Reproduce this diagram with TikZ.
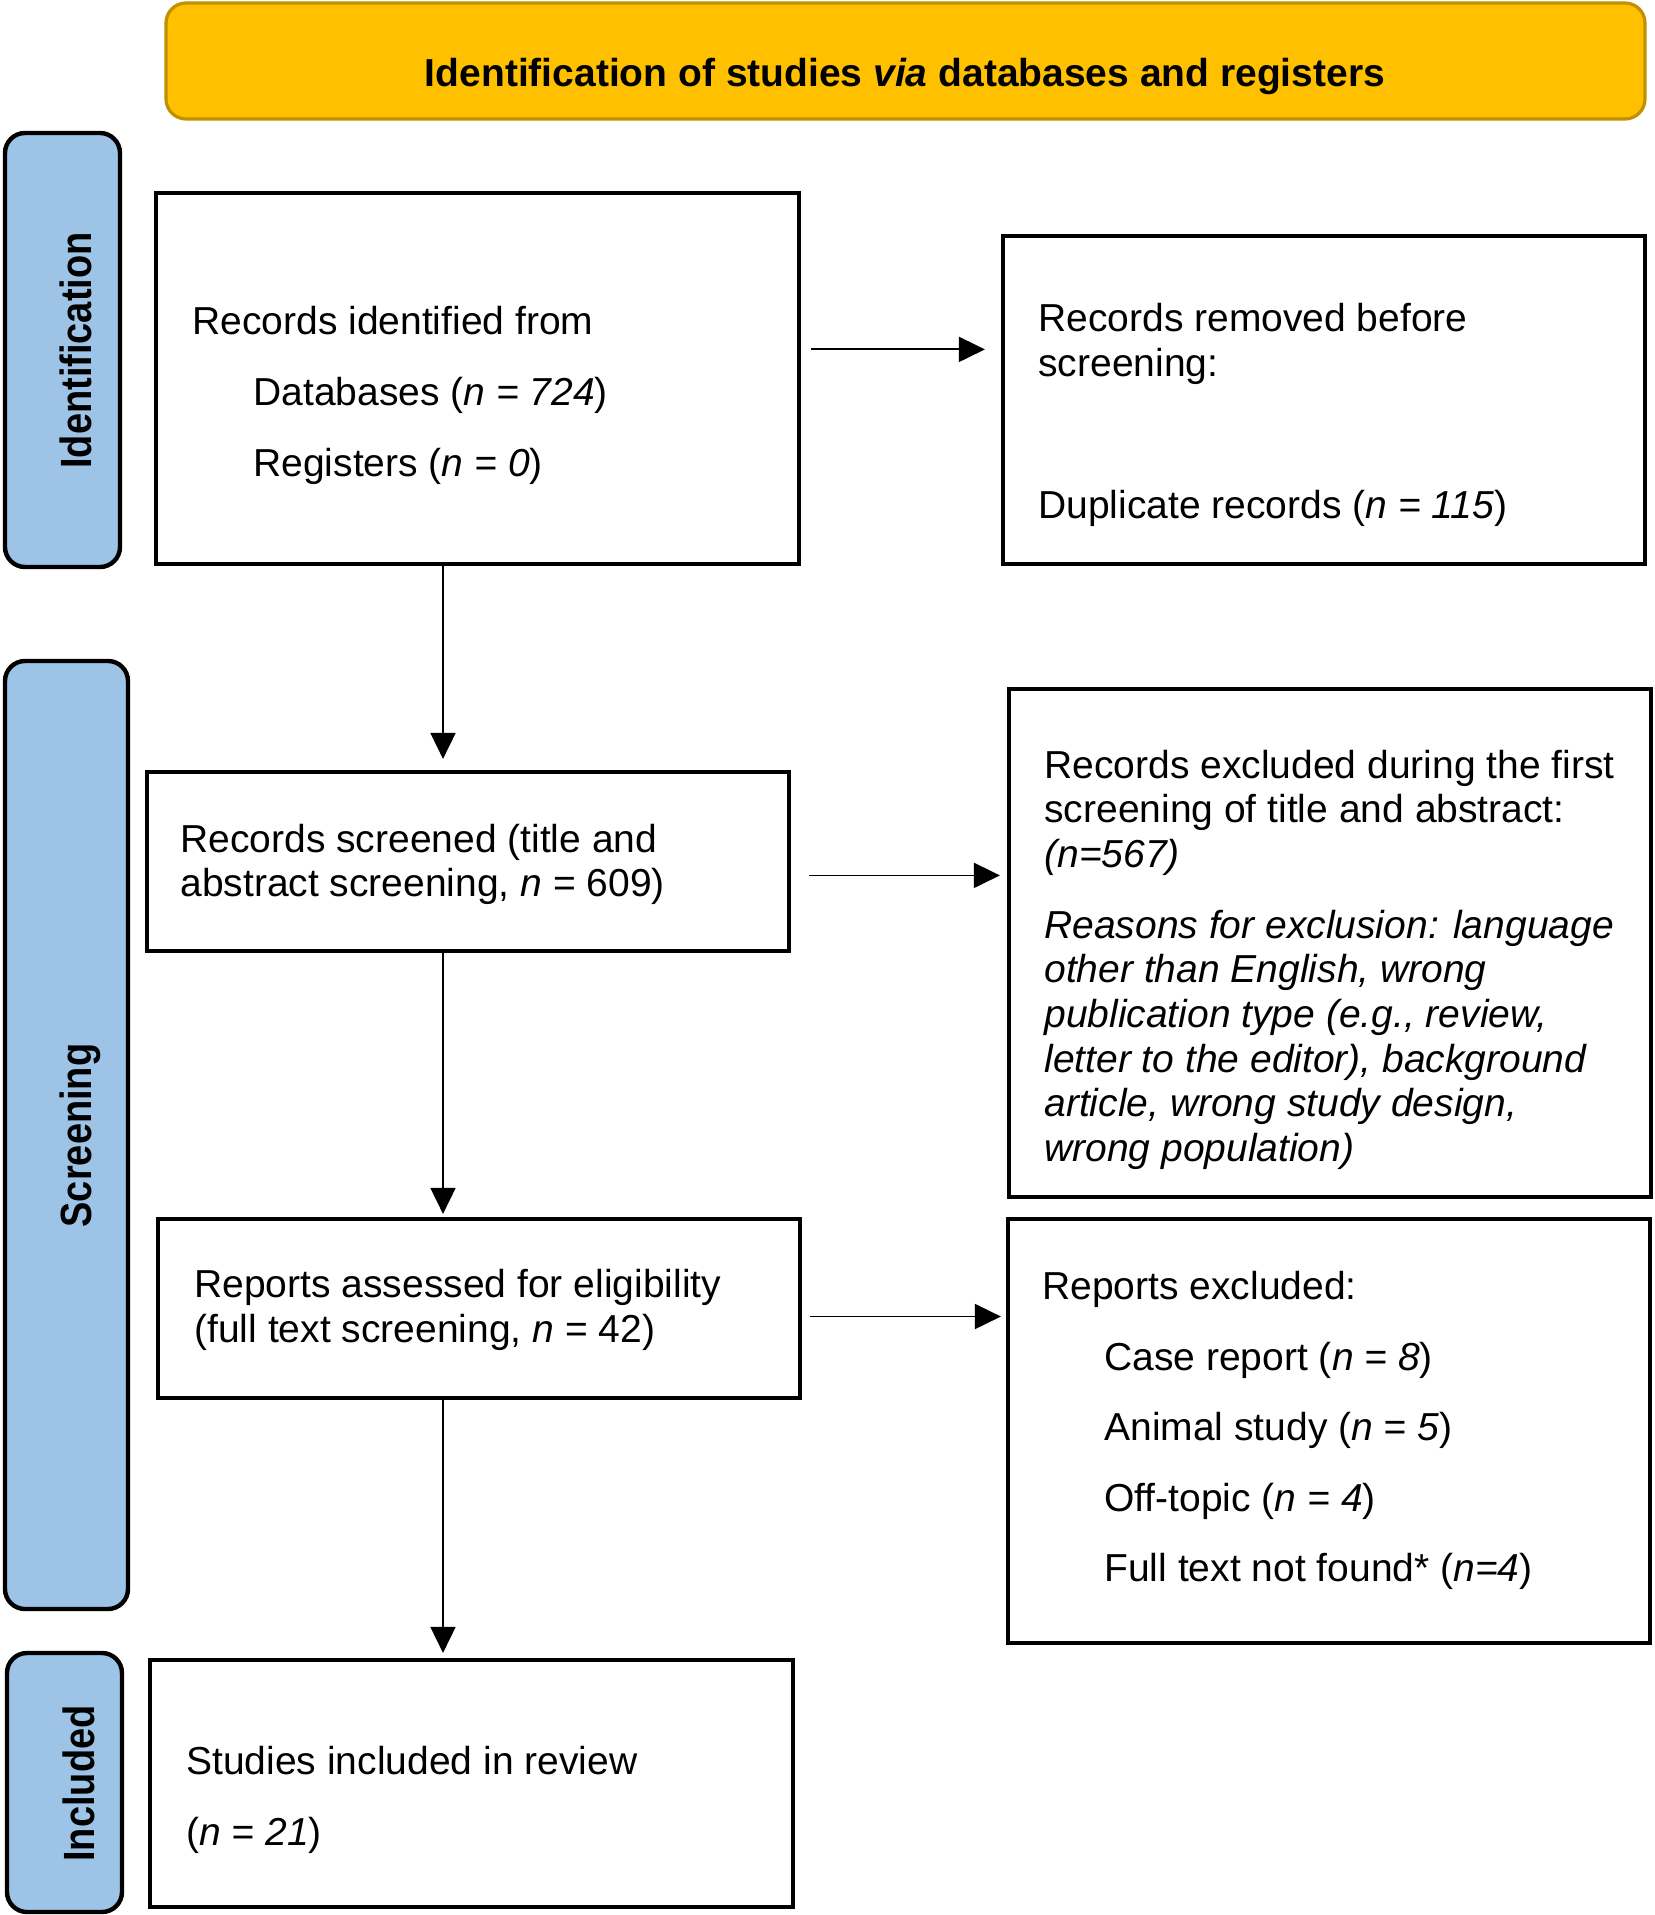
\documentclass[tikz,border=0pt]{standalone}
\usepackage{fontspec}
\setmainfont{Liberation Sans}
\usetikzlibrary{fit,arrows.meta,calc}
\definecolor{gold}{HTML}{FFC000}
\definecolor{golddark}{HTML}{BF9000}
\definecolor{phase}{HTML}{9DC3E6}
\begin{document}
\begin{tikzpicture}[x=0.5pt,y=-0.5pt,
  box/.style={draw=black, line width=2.1pt, inner sep=0pt, fill=white},
  phasebox/.style={draw=black, line width=2.2pt, fill=phase, rounded corners=10pt, inner sep=0pt},
  banner/.style={draw=golddark, line width=1.6pt, fill=gold, rounded corners=10pt, inner sep=0pt},
  txt/.style={anchor=base west, inner sep=0pt, font=\fontsize{19.5pt}{22pt}\selectfont},
  bannertxt/.style={anchor=base, inner sep=0pt, font=\fontsize{19.5pt}{22pt}\selectfont\bfseries},
  phasetxt/.style={rotate=90, anchor=base, inner sep=0pt, font=\fontsize{19pt}{22pt}\selectfont\bfseries},
  arr/.style={line width=0.9pt, -{Triangle[length=13pt,width=12.5pt]}}]
\useasboundingbox (0,0) rectangle (1654,1915);

% banner
\node[banner, fit={(166,3) (1645,119)}] (ban) {};
\node[bannertxt] (bant) at (905,87) {Identification of studies \textit{via} databases and registers};

% phase labels
\node[phasebox, fit={(5,133) (120,567)}] (ph1) {};
\node[phasebox, fit={(5,661) (128,1609)}] (ph2) {};
\node[phasebox, fit={(7,1653) (122,1912)}] (ph3) {};
\node[phasetxt] (ph1t) at (91,350.5) {\scalebox{1}[1.15]{Identification}};
\node[phasetxt] (ph2t) at (91,1135.5) {\scalebox{1}[1.15]{Screening}};
\node[phasetxt] (ph3t) at (94,1783.5) {\scalebox{1}[1.15]{Included}};

% boxes
\node[box, fit={(156,193) (799,564)}] (b1) {};
\node[box, fit={(1003,236) (1645,564)}] (b2) {};
\node[box, fit={(147,772) (789,951)}] (b3) {};
\node[box, fit={(1009,689) (1651,1197)}] (b4) {};
\node[box, fit={(158,1219) (800,1398)}] (b5) {};
\node[box, fit={(1008,1219) (1650,1643)}] (b6) {};
\node[box, fit={(150,1660) (793,1907)}] (b7) {};

% texts box 1
\node[txt] (t1a) at (192,335) {Records identified from};
\node[txt] (t1b) at (253,405) {Databases (\textit{n = 724})};
\node[txt] (t1c) at (253,476) {Registers (\textit{n = 0})};
% box 2
\node[txt] (t2a) at (1038,332) {Records removed before};
\node[txt] (t2b) at (1038,376.6) {screening:};
\node[txt] (t2c) at (1038,518.6) {Duplicate records (\textit{n = 115})};
% box 3
\node[txt] (t3a) at (180,852) {Records screened (title and};
\node[txt] (t3b) at (180,896) {abstract screening, \textit{n} = 609)};
% box 4
\node[txt] (t4a) at (1044,778) {Records excluded during the first};
\node[txt] (t4b) at (1044,822.5) {screening of title and abstract:};
\node[txt] (t4c) at (1044,867) {\textit{(n=567)}};
\node[txt] (t4d) at (1044,938) {\textit{Reasons for exclusion: language}};
\node[txt] (t4e) at (1044,982.7) {\textit{other than English, wrong}};
\node[txt] (t4f) at (1044,1027.4) {\textit{publication type (e.g., review,}};
\node[txt] (t4g) at (1044,1072.1) {\textit{letter to the editor), background}};
\node[txt] (t4h) at (1044,1116.8) {\textit{article, wrong study design,}};
\node[txt] (t4i) at (1044,1161.5) {\textit{wrong population)}};
% box 5
\node[txt] (t5a) at (194,1297.5) {Reports assessed for eligibility};
\node[txt] (t5b) at (194,1342) {(full text screening, \textit{n} = 42)};
% box 6
\node[txt] (t6a) at (1042,1299) {Reports excluded:};
\node[txt] (t6b) at (1104,1370) {Case report (\textit{n = 8})};
\node[txt] (t6c) at (1104,1440.6) {Animal study (\textit{n = 5})};
\node[txt] (t6d) at (1104,1511) {Off-topic (\textit{n = 4})};
\node[txt] (t6e) at (1104,1581.6) {Full text not found* (\textit{n=4})};
% box 7
\node[txt] (t7a) at (186,1774.5) {Studies included in review};
\node[txt] (t7b) at (186,1845) {(\textit{n = 21})};

% connectors
\coordinate (vx) at (443,0);
\coordinate (h1) at (0,349.4);
\coordinate (h2) at (0,875.4);
\coordinate (h3) at (0,1316.5);
\draw[arr, shorten >=5.5pt] (b1.south -| vx) -- (b3.north -| vx);
\draw[arr, shorten >=1.5pt] (b3.south -| vx) -- (b5.north -| vx);
\draw[arr, shorten >=2.5pt] (b5.south -| vx) -- (b7.north -| vx);
\draw[arr, shorten <=5pt, shorten >=8pt] (b1.east |- h1) -- (b2.west |- h1);
\draw[arr, shorten <=9pt, shorten >=3.5pt] (b3.east |- h2) -- (b4.west |- h2);
\draw[arr, shorten <=4pt, shorten >=2.5pt] (b5.east |- h3) -- (b6.west |- h3);
\end{tikzpicture}
\end{document}
